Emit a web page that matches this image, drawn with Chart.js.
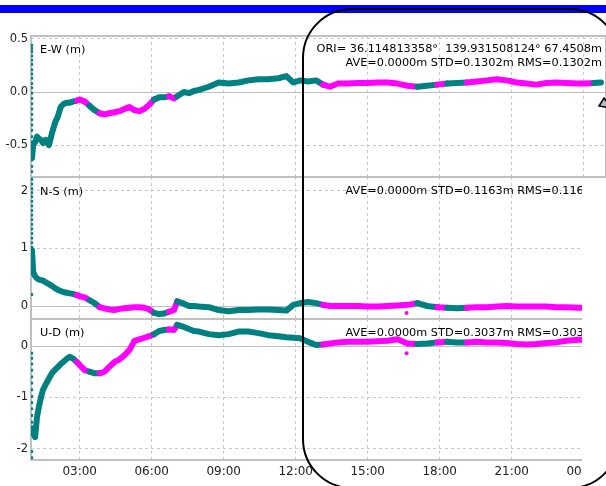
<!DOCTYPE html>
<html>
<head>
<meta charset="utf-8">
<script src="https://cdn.jsdelivr.net/npm/chart.js@4.4.1/dist/chart.umd.min.js"></script>
<style>
  html, body { margin: 0; padding: 0; background: #fff; }
  body { width: 606px; height: 486px; position: relative; overflow: hidden; font-family: "DejaVu Sans", sans-serif; }
  .abs { position: absolute; }
  .txt { position: absolute; font-size: 11.3px; line-height: 14px; color: #000; white-space: pre; }
  #clip { position: absolute; left: 0; top: 0; width: 582px; height: 486px; overflow: hidden; }
</style>
</head>
<body>
<div class="abs" style="left:0;top:5px;width:606px;height:8px;background:#0000ff"></div>

<canvas id="ew" class="abs" width="610" height="161" style="left:0;top:26px"></canvas>
<div class="txt" style="left:40px;top:43px">E-W (m)</div>
<div class="txt" style="right:4px;top:42px">ORI= 36.114813358°  139.931508124° 67.4508m</div>
<div class="txt" style="right:4px;top:56px">AVE=0.0000m STD=0.1302m RMS=0.1302m</div>

<div id="clip">
  <canvas id="ns" class="abs" width="610" height="162" style="left:0;top:167px"></canvas>
  <canvas id="ud" class="abs" width="610" height="177" style="left:0;top:309px"></canvas>
  <div class="txt" style="left:40px;top:185px">N-S (m)</div>
  <div class="txt" style="right:-20px;top:184px">AVE=0.0000m STD=0.1163m RMS=0.1163m</div>
  <div class="txt" style="left:40px;top:326px">U-D (m)</div>
  <div class="txt" style="right:-20px;top:326px">AVE=0.0000m STD=0.3037m RMS=0.3037m</div>
</div>

<div class="abs" style="left:302px;top:8px;width:318px;height:481px;box-sizing:border-box;border:2.5px solid #000;border-radius:50px;pointer-events:none"></div>
<svg class="abs" style="left:0;top:0" width="606" height="486">
  <polygon points="599,106 604,98 611,108" fill="#a9c2c8" stroke="#000" stroke-width="1.5"/>
</svg>

<script>
// time of day in hours (24 = 00:00 next day)
const times = [1.01, 1.06, 1.14, 1.22, 1.30, 1.39, 1.47, 1.59, 1.72, 1.84, 1.97, 2.09, 2.21, 2.34, 2.46, 2.59, 2.71, 2.88,
  3.00, 3.21, 3.41, 3.62, 3.83, 4.03, 4.24, 4.45, 4.66, 4.86, 5.07, 5.28, 5.48, 5.69, 5.90, 6.10, 6.31, 6.52, 6.72, 6.93,
  7.06, 7.34, 7.55, 7.76, 7.97, 8.38, 8.79, 9.21, 9.62, 10.03, 10.45, 10.86, 11.28, 11.61, 11.90, 12.19, 12.52, 12.85,
  13.14, 13.43, 13.76, 14.17, 14.59, 15.00, 15.41, 15.83, 16.24, 16.66, 17.07, 17.48, 17.90, 18.31, 18.72, 19.14, 19.55,
  19.97, 20.38, 20.79, 21.21, 21.62, 22.03, 22.45, 22.86, 23.28, 23.77, 24.10, 24.43, 24.72];

const ew = [-0.62, -0.50, -0.47, -0.42, -0.44, -0.45, -0.48, -0.45, -0.50, -0.39, -0.29, -0.23, -0.14, -0.11, -0.10, -0.10, -0.09, -0.08,
  -0.07, -0.09, -0.13, -0.17, -0.20, -0.21, -0.20, -0.19, -0.18, -0.16, -0.14, -0.17, -0.18, -0.16, -0.12, -0.07, -0.05, -0.05, -0.04, -0.06,
  -0.04, 0.00, -0.01, 0.01, 0.02, 0.05, 0.09, 0.08, 0.09, 0.11, 0.12, 0.12, 0.13, 0.15, 0.09, 0.11, 0.10, 0.11,
  0.07, 0.05, 0.08, 0.08, 0.085, 0.085, 0.09, 0.09, 0.08, 0.06, 0.05, 0.06, 0.07, 0.08, 0.085, 0.09, 0.10,
  0.11, 0.12, 0.11, 0.09, 0.08, 0.07, 0.085, 0.09, 0.085, 0.08, 0.08, 0.085, 0.09];

const ns = [0.97, 0.59, 0.52, 0.48, 0.46, 0.45, 0.44, 0.41, 0.38, 0.35, 0.31, 0.28, 0.26, 0.24, 0.23, 0.22, 0.21, 0.19,
  0.17, 0.15, 0.10, 0.05, -0.02, -0.04, -0.06, -0.07, -0.05, -0.04, -0.03, -0.02, -0.02, -0.03, -0.06, -0.12, -0.14, -0.13, -0.10, -0.07,
  0.08, 0.04, 0.00, 0.00, -0.01, -0.02, -0.07, -0.09, -0.07, -0.07, -0.06, -0.06, -0.07, -0.08, 0.02, 0.05, 0.07, 0.05,
  0.02, 0.00, 0.00, 0.00, 0.00, -0.01, -0.01, 0.00, 0.01, 0.02, 0.05, 0.00, -0.02, -0.03, -0.04, -0.03, -0.02,
  -0.02, -0.01, 0.00, -0.01, -0.01, -0.01, -0.01, -0.02, -0.02, -0.03, -0.03, -0.03, -0.03];

const ud = [-1.60, -1.70, -1.77, -1.38, -1.18, -0.99, -0.85, -0.74, -0.63, -0.53, -0.46, -0.41, -0.35, -0.30, -0.25, -0.21, -0.24, -0.31,
  -0.37, -0.47, -0.50, -0.53, -0.53, -0.50, -0.40, -0.31, -0.26, -0.18, -0.08, 0.10, 0.13, 0.16, 0.19, 0.23, 0.29, 0.31, 0.32, 0.31,
  0.41, 0.37, 0.33, 0.29, 0.28, 0.23, 0.21, 0.23, 0.28, 0.28, 0.25, 0.21, 0.19, 0.17, 0.16, 0.15, 0.08, 0.02,
  0.03, 0.05, 0.07, 0.08, 0.08, 0.08, 0.09, 0.10, 0.13, 0.05, 0.04, 0.05, 0.07, 0.08, 0.07, 0.07, 0.08,
  0.07, 0.07, 0.06, 0.04, 0.03, 0.04, 0.06, 0.07, 0.10, 0.12, 0.12, 0.12, 0.12];

// first epochs, drawn as a column of dots at the left edge
const startTime = 1.0;
const ewStart = [0.44, 0.41, 0.38, 0.34, 0.30, 0.26, 0.21, 0.17, 0.13, 0.08, 0.04, -0.01, -0.06, -0.11, -0.16, -0.21, -0.26, -0.31, -0.36, -0.42, -0.47, -0.53, -0.58, -0.64, -0.70, -0.75];
const nsStart = [2.32, 2.26, 2.20, 2.12, 2.04, 1.97, 1.90, 1.82, 1.74, 1.66, 1.58, 1.50, 1.42, 1.34, 1.26, 1.18, 1.10, 1.02, 0.20];
const udStart = [-0.14, -0.24, -0.35, -0.47, -0.60, -0.72, -0.85, -0.98, -1.10, -1.22, -1.35, -1.48, -2.05, -2.17];

// isolated outliers
const nsOut = [[16.62, -0.12]];
const udOut = [[16.62, -0.14]];

// periods drawn in magenta (start, end hours)
const floatSpans = [[2.92, 3.50], [3.87, 6.10], [6.81, 7.01], [13.22, 17.11], [17.81, 18.23], [18.97, 24.52]];

const xTicks = [3, 6, 9, 12, 15, 18, 21, 24];
const xMin = 0.97, xMax = 24.93;

const TEAL = '#008080', MAGENTA = '#ff00ff', GRID = '#c8c8c8';

function isFloat(t) {
  return floatSpans.some(s => t >= s[0] && t < s[1]);
}
function hhmm(v) {
  const h = Math.round(v) % 24;
  return (h < 10 ? '0' : '') + h + ':00';
}

const framePlugin = {
  id: 'frame',
  beforeDatasetsDraw(chart) {
    const { ctx, chartArea: a } = chart;
    const y0 = Math.round(chart.scales.y.getPixelForValue(0)) + 0.5;
    ctx.save();
    ctx.strokeStyle = '#c0c0c0';
    ctx.lineWidth = 1;
    ctx.beginPath();
    ctx.moveTo(a.left, y0);
    ctx.lineTo(a.right, y0);
    ctx.stroke();
    ctx.lineWidth = 2;
    ctx.strokeRect(a.left, a.top, a.right - a.left, a.bottom - a.top);
    ctx.restore();
  }
};

function makePanel(id, vals, start, outs, yMin, yMax, yTicks, yFmt, showX) {
  const line = times.map((t, i) => ({ x: t, y: vals[i] }));
  const datasets = [
    {
      data: line, showLine: true, pointRadius: 0, borderWidth: 6,
      borderJoinStyle: 'round', borderCapStyle: 'round', borderColor: TEAL,
      segment: {
        borderColor: c => isFloat((times[c.p0DataIndex] + times[c.p1DataIndex]) / 2) ? MAGENTA : TEAL
      }
    },
    {
      data: start.map(v => ({ x: startTime, y: v })), showLine: false,
      pointRadius: 2, pointStyle: 'rect', backgroundColor: TEAL, borderColor: TEAL, borderWidth: 0
    },
    {
      data: outs.map(p => ({ x: p[0], y: p[1] })), showLine: false,
      pointRadius: 2, backgroundColor: MAGENTA, borderColor: MAGENTA, borderWidth: 0
    }
  ];
  return new Chart(document.getElementById(id), {
    type: 'scatter',
    data: { datasets },
    options: {
      responsive: false, animation: false, devicePixelRatio: 1,
      layout: { padding: { left: 0, right: 0, top: 10, bottom: showX ? 0 : 10 } },
      plugins: { legend: { display: false }, tooltip: { enabled: false } },
      scales: {
        x: {
          type: 'linear', min: xMin, max: xMax,
          afterBuildTicks: s => { s.ticks = xTicks.map(v => ({ value: v })); },
          afterFit: s => { s.height = showX ? 26 : 0; },
          ticks: {
            display: showX, autoSkip: false, maxRotation: 0, padding: 5,
            color: '#222', font: { family: 'DejaVu Sans', size: 12 },
            callback: v => hhmm(v)
          },
          grid: { color: GRID, drawTicks: false },
          border: { display: false, dash: [3, 3] }
        },
        y: {
          min: yMin, max: yMax,
          afterBuildTicks: s => { s.ticks = yTicks.map(v => ({ value: v })); },
          afterFit: s => { s.width = 31; },
          ticks: {
            padding: 3, color: '#222', font: { family: 'DejaVu Sans', size: 11.5 },
            callback: v => yFmt(v)
          },
          grid: { color: c => c.tick && c.tick.value === 0 ? 'rgba(0,0,0,0)' : GRID, drawTicks: false },
          border: { display: false, dash: [3, 3] }
        }
      }
    },
    plugins: [framePlugin]
  });
}

makePanel('ew', ew, ewStart, [], -0.80, 0.528, [-0.5, 0, 0.5], v => v.toFixed(1), false);
makePanel('ns', ns, nsStart, nsOut, -0.226, 2.243, [0, 1, 2], v => String(v), false);
makePanel('ud', ud, udStart, udOut, -2.214, 0.524, [-2, -1, 0], v => String(v), true);
</script>
</body>
</html>
